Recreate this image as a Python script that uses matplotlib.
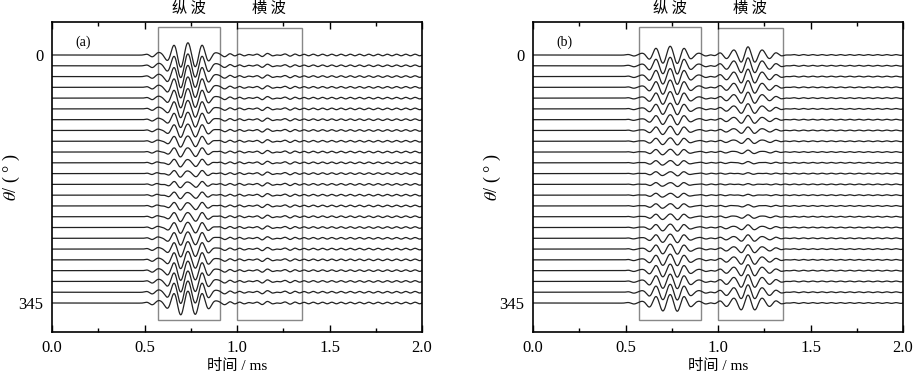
import numpy as np
import matplotlib.pyplot as plt
from matplotlib.patches import Rectangle
import matplotlib.transforms as mtransforms

plt.rcParams['font.family'] = ['Liberation Serif', 'Noto Sans CJK SC']
plt.rcParams['mathtext.fontset'] = 'stix'

# angles of the receivers (deg)
angles = np.arange(0, 360, 15)

# relative amplitude of each trace (1 = largest P in (a))
p_amp_a = [1.00, 0.97, 0.92, 0.86, 0.79, 0.71, 0.63, 0.55, 0.46, 0.38, 0.31, 0.26,
           0.24, 0.26, 0.31, 0.38, 0.46, 0.55, 0.63, 0.71, 0.79, 0.86, 0.92, 0.97]
s_amp_a = [0.07] * 24
p_amp_b = [0.70, 0.68, 0.64, 0.59, 0.53, 0.47, 0.41, 0.35, 0.29, 0.24, 0.20, 0.17,
           0.16, 0.17, 0.20, 0.24, 0.29, 0.35, 0.41, 0.47, 0.53, 0.59, 0.64, 0.68]
s_amp_b = [0.60, 0.58, 0.54, 0.49, 0.43, 0.37, 0.30, 0.24, 0.18, 0.12, 0.07, 0.04,
           0.03, 0.04, 0.07, 0.12, 0.18, 0.24, 0.30, 0.37, 0.43, 0.49, 0.54, 0.58]
coda_a = 0.06
coda_b = 0.03

# arrival times (ms) and dominant frequency (kHz)
p_time_a, s_time_a = 0.735, 1.17
p_time_b, s_time_b = 0.741, 1.162
freq = 12.9

# window boxes (ms)
p_box = (0.575, 0.91)
s_box = (1.0, 1.35)

t = np.linspace(0, 2, 4000)


def wavelet(t0, f, sig=0.09):
    return np.exp(-0.5 * ((t - t0) / sig) ** 2) * np.cos(2 * np.pi * f * (t - t0))


onset = 1 / (1 + np.exp(-(t - 0.52) / 0.02))
ripple = np.sin(2 * np.pi * 20.0 * t) * onset

gain = 1.2
fig = plt.figure(figsize=(9.19, 3.76), dpi=100)
panels = [
    ([0.0566, 0.117, 0.4026, 0.8245], p_amp_a, s_amp_a, coda_a, p_time_a, s_time_a, '(a)'),
    ([0.58, 0.117, 0.4026, 0.8245], p_amp_b, s_amp_b, coda_b, p_time_b, s_time_b, '(b)'),
]
n = len(angles)
for rect, pa, sa, ca, tp, ts, lab in panels:
    ax = fig.add_axes(rect)
    for i in range(n):
        w = pa[i] * wavelet(tp, freq) + sa[i] * wavelet(ts, freq) + ca * ripple
        ax.plot(t, -i + gain * w, color='#222222', lw=0.9)
    ax.add_patch(Rectangle((p_box[0], -24.58), p_box[1] - p_box[0], 27.2,
                           fill=False, ec='#888888', lw=1.0))
    ax.add_patch(Rectangle((s_box[0], -24.58), s_box[1] - s_box[0], 27.1,
                           fill=False, ec='#888888', lw=1.0))
    ax.set_xlim(0, 2)
    ax.set_ylim(-(n - 1) - 2.69, 3.06)
    ax.set_xticks([0, 0.5, 1.0, 1.5, 2.0])
    ax.set_xticklabels(['0.0', '0.5', '1.0', '1.5', '2.0'])
    ax.set_xticks([0.25, 0.75, 1.25, 1.75], minor=True)
    ax.set_yticks([0, -(n - 1)])
    ax.set_yticklabels([str(angles[0]), str(angles[-1])])
    ax.tick_params(axis='x', which='major', direction='in', top=True, length=5,
                   width=1, labelsize=12, pad=6)
    ax.tick_params(axis='x', which='minor', direction='in', top=True, length=3, width=1)
    ax.tick_params(axis='y', length=0, labelsize=12, pad=6)
    for sp in ax.spines.values():
        sp.set_linewidth(1.2)
    ax.set_xlabel('时间 / ms', fontsize=11, labelpad=2)
    ax.set_ylabel(r'$\theta$/ ( ° )', fontsize=13)
    ax.yaxis.set_label_coords(-0.08, 0.5)
    ax.text(0.062, 0.935, lab, transform=ax.transAxes, fontsize=10, va='center')
    trans = mtransforms.blended_transform_factory(ax.transData, ax.transAxes)
    ax.text(0.74, 1.015, '纵 波', transform=trans, ha='center', va='bottom',
            fontsize=11, family=['Noto Sans CJK SC'])
    ax.text(1.17, 1.015, '横 波', transform=trans, ha='center', va='bottom',
            fontsize=11, family=['Noto Sans CJK SC'])

fig.savefig('out.png', dpi=100, facecolor='white')
